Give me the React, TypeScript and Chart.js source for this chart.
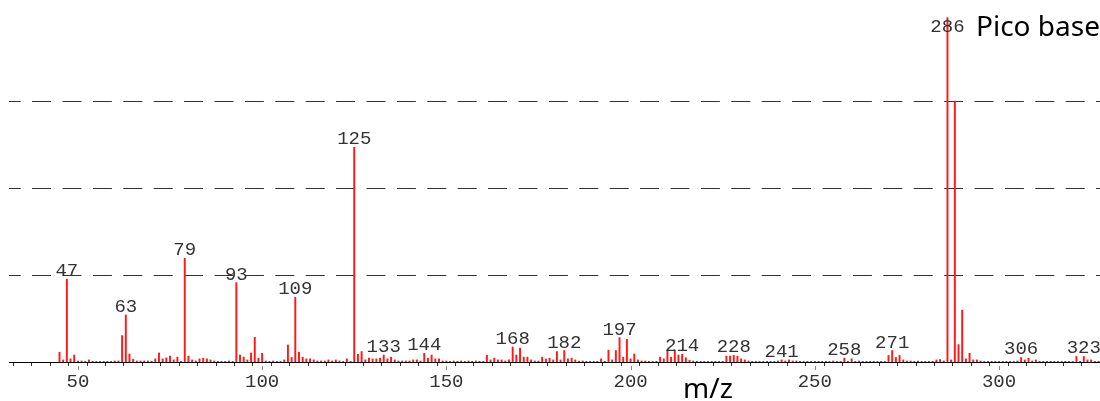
import React, { useEffect, useRef } from "react";
import { Chart, registerables } from "chart.js";

Chart.register(...registerables);

// m/z values (one per integer mass)
const masses: number[] = [
  45, 46, 47, 48, 49,
  50, 51, 52, 53, 54, 55, 56, 57, 58, 59,
  60, 61, 62, 63, 64, 65, 66, 67, 68, 69,
  70, 71, 72, 73, 74, 75, 76, 77, 78, 79,
  80, 81, 82, 83, 84, 85, 86, 87, 88, 89,
  90, 91, 92, 93, 94, 95, 96, 97, 98, 99,
  100, 101, 102, 103, 104, 105, 106, 107, 108, 109,
  110, 111, 112, 113, 114, 115, 116, 117, 118, 119,
  120, 121, 122, 123, 124, 125, 126, 127, 128, 129,
  130, 131, 132, 133, 134, 135, 136, 137, 138, 139,
  140, 141, 142, 143, 144, 145, 146, 147, 148, 149,
  150, 151, 152, 153, 154, 155, 156, 157, 158, 159,
  160, 161, 162, 163, 164, 165, 166, 167, 168, 169,
  170, 171, 172, 173, 174, 175, 176, 177, 178, 179,
  180, 181, 182, 183, 184, 185, 186, 187, 188, 189,
  190, 191, 192, 193, 194, 195, 196, 197, 198, 199,
  200, 201, 202, 203, 204, 205, 206, 207, 208, 209,
  210, 211, 212, 213, 214, 215, 216, 217, 218, 219,
  220, 221, 222, 223, 224, 225, 226, 227, 228, 229,
  230, 231, 232, 233, 234, 235, 236, 237, 238, 239,
  240, 241, 242, 243, 244, 245, 246, 247, 248, 249,
  250, 251, 252, 253, 254, 255, 256, 257, 258, 259,
  260, 261, 262, 263, 264, 265, 266, 267, 268, 269,
  270, 271, 272, 273, 274, 275, 276, 277, 278, 279,
  280, 281, 282, 283, 284, 285, 286, 287, 288, 289,
  290, 291, 292, 293, 294, 295, 296, 297, 298, 299,
  300, 301, 302, 303, 304, 305, 306, 307, 308, 309,
  310, 311, 312, 313, 314, 315, 316, 317, 318, 319,
  320, 321, 322, 323, 324, 325, 326, 327,
];

// relative intensity (%)
const intensities: number[] = [
  2.8, 0.6, 23.8, 0.9, 2.0,
  0.3, 0.3, 0.2, 0.6, 0.2, 0.2, 0.2, 0.2, 0.2, 0.2,
  0.3, 0.3, 7.6, 13.5, 2.3, 0.8, 0.3, 0.3, 0.3, 0.3,
  0.2, 0.9, 2.6, 0.9, 1.2, 1.7, 0.6, 1.4, 0.2, 29.8,
  1.7, 0.6, 0.3, 0.9, 1.1, 0.9, 0.6, 0.3, 0.2, 0.2,
  0.2, 0.3, 0.2, 22.8, 2.0, 1.4, 0.6, 2.6, 7.1, 1.1,
  2.5, 0.3, 0.2, 0.3, 0.2, 0.2, 0.6, 4.9, 1.3, 18.6,
  2.8, 1.4, 0.9, 0.9, 0.6, 0.3, 0.3, 0.3, 0.6, 0.3,
  0.6, 0.3, 0.2, 0.9, 0.2, 61.7, 2.2, 3.0, 0.6, 1.1,
  0.9, 0.9, 1.1, 2.0, 0.9, 1.4, 0.6, 0.3, 0.3, 0.3,
  0.3, 0.6, 0.6, 0.3, 2.5, 1.1, 2.0, 0.9, 0.9, 0.3,
  0.3, 0.2, 0.3, 0.2, 0.3, 0.2, 0.3, 0.2, 0.3, 0.2,
  0.2, 1.9, 0.6, 1.1, 0.6, 0.6, 0.3, 0.6, 4.3, 2.0,
  4.0, 1.4, 1.4, 0.6, 0.3, 0.3, 1.4, 0.9, 1.1, 0.6,
  3.0, 0.6, 3.3, 0.9, 1.1, 0.6, 0.3, 0.3, 0.2, 0.2,
  0.2, 0.2, 0.9, 0.2, 3.4, 0.6, 3.3, 7.0, 1.4, 6.5,
  0.9, 2.3, 0.6, 0.3, 0.3, 0.2, 0.2, 0.2, 1.4, 0.9,
  3.2, 1.4, 3.5, 2.0, 2.2, 1.2, 0.5, 0.3, 0.2, 0.2,
  0.2, 0.2, 0.2, 0.2, 0.2, 0.2, 1.7, 1.7, 1.9, 1.7,
  0.9, 0.6, 0.3, 0.2, 0.2, 0.2, 0.2, 0.2, 0.2, 0.2,
  0.3, 0.6, 0.3, 0.6, 0.3, 0.3, 0.2, 0.2, 0.2, 0.2,
  0.2, 0.2, 0.2, 0.2, 0.2, 0.3, 0.2, 0.2, 1.1, 0.2,
  0.9, 0.2, 0.3, 0.2, 0.2, 0.2, 0.2, 0.2, 0.2, 0.2,
  1.9, 3.3, 1.3, 1.9, 0.6, 0.3, 0.3, 0.2, 0.3, 0.2,
  0.2, 0.2, 0.2, 0.6, 0.7, 0.3, 99.0, 0.6, 75.0, 5.0,
  14.9, 0.9, 2.5, 0.6, 0.6, 0.3, 0.2, 0.2, 0.2, 0.2,
  0.2, 0.2, 0.2, 0.2, 0.2, 0.3, 1.3, 0.6, 1.1, 0.3,
  0.6, 0.2, 0.2, 0.2, 0.2, 0.2, 0.2, 0.2, 0.2, 0.2,
  0.2, 1.6, 0.2, 1.6, 0.6, 0.6, 0.2, 0.2,
];

const labeledPeaks: number[] = [47, 63, 79, 93, 109, 125, 133, 144, 168, 182, 197, 214, 228, 241, 258, 271, 286, 306, 323];
const xMajorTicks: number[] = [50, 100, 150, 200, 250, 300];
const xMinorTicks: number[] = [
  35, 40, 45, 50, 55, 60, 65, 70, 75, 80, 85, 90, 95, 100, 105, 110, 115, 120, 125, 130,
  135, 140, 145, 150, 155, 160, 165, 170, 175, 180, 185, 190, 195, 200, 205, 210, 215, 220,
  225, 230, 235, 240, 245, 250, 255, 260, 265, 270, 275, 280, 285, 290, 295, 300, 305, 310,
  315, 320, 325,
];
const yGridValues: number[] = [25, 50, 75];
const xAxisTitle = "m/z";
const cornerNote = "Pico base";

const X_MIN = 31.3;
const X_MAX = 327.4;

const MONO = '19px "Liberation Mono", monospace';
const SANS = '28px "Noto Sans", sans-serif';

const decorPlugin = {
  id: "decor",
  afterDatasetsDraw(chart: any) {
    const ctx = chart.ctx;
    const meta = chart.getDatasetMeta(0);
    ctx.save();
    ctx.font = MONO;
    ctx.fillStyle = "#333";
    ctx.textAlign = "center";
    ctx.textBaseline = "alphabetic";
    labeledPeaks.forEach((m) => {
      const i = masses.indexOf(m);
      if (i < 0) return;
      const el = meta.data[i];
      const y = Math.max(el.y - 3, 32);
      ctx.fillText(String(m), el.x, y);
    });
    ctx.restore();
  },
  afterDraw(chart: any) {
    const ctx = chart.ctx;
    const xs = chart.scales.x;
    const base = chart.chartArea.bottom;
    ctx.save();
    ctx.strokeStyle = "#888";
    ctx.lineWidth = 1;
    xMajorTicks.forEach((v) => {
      const px = Math.round(xs.getPixelForValue(v)) + 0.5;
      ctx.beginPath();
      ctx.moveTo(px, base + 4);
      ctx.lineTo(px, base + 8);
      ctx.stroke();
    });
    ctx.fillStyle = "#000";
    ctx.font = SANS;
    ctx.textAlign = "center";
    ctx.textBaseline = "alphabetic";
    ctx.fillText(xAxisTitle, 708, 398);
    ctx.textAlign = "left";
    ctx.fillText(cornerNote, 976, 36);
    ctx.restore();
  },
};

export default function App() {
  const ref = useRef<HTMLCanvasElement | null>(null);
  useEffect(() => {
    if (!ref.current) return;
    const chart = new Chart(ref.current, {
      type: "bar",
      data: {
        datasets: [
          {
            data: masses.map((m, i) => ({ x: m, y: intensities[i] })),
            backgroundColor: "#ff1a1a",
            borderWidth: 0,
            barThickness: 1.3,
          } as any,
        ],
      },
      plugins: [decorPlugin],
      options: {
        animation: false,
        responsive: false,
        devicePixelRatio: 1,
        layout: { padding: { left: 9, top: 14, right: 0, bottom: 0 } },
        plugins: { legend: { display: false }, tooltip: { enabled: false }, title: { display: false } },
        scales: {
          x: {
            type: "linear",
            min: X_MIN,
            max: X_MAX,
            offset: false,
            afterBuildTicks: (scale: any) => {
              scale.ticks = xMinorTicks.map((v) => ({ value: v }));
            },
            afterFit: (scale: any) => {
              scale.height = 39;
            },
            ticks: {
              autoSkip: false,
              maxRotation: 0,
              padding: 5,
              color: "#333",
              font: { family: '"Liberation Mono", monospace', size: 19 },
              callback: (v: any) => (xMajorTicks.includes(Number(v)) ? String(v) : ""),
            },
            grid: {
              drawOnChartArea: false,
              drawTicks: true,
              tickLength: 4,
              tickColor: "#333",
            },
            border: { display: true, color: "#000", width: 1 },
          },
          y: {
            min: 0,
            max: 100,
            afterBuildTicks: (scale: any) => {
              scale.ticks = yGridValues.map((v) => ({ value: v }));
            },
            afterFit: (scale: any) => {
              scale.width = 0;
            },
            ticks: { display: false },
            grid: { drawTicks: false, color: "#333", lineWidth: 1 },
            border: { display: false, dash: [19, 11.4], dashOffset: 7.3 },
          },
        },
      } as any,
    });
    return () => chart.destroy();
  }, []);
  return (
    <div style={{ position: "fixed", left: 0, top: 0, width: 1100, height: 401, background: "#fff" }}>
      <canvas ref={ref} width={1100} height={401} style={{ display: "block" }} />
    </div>
  );
}
